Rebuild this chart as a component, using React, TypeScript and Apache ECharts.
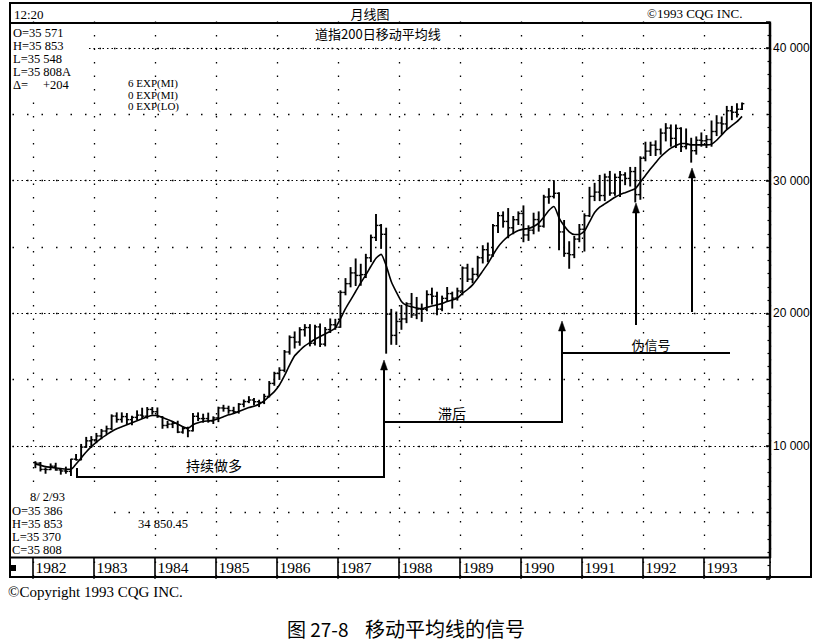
import React, { useEffect, useRef } from "react";
import * as echarts from "echarts";

// ---- axis layout (months shown on the category axis: Sep 1981 .. Jan 1994) ----
const AXIS_START_YEAR = 1981;
const AXIS_START_MONTH = 9;
const AXIS_MONTHS = 149;
const FIRST_BAR_INDEX = 4; // Jan 1982
const LAST_LABEL_YEAR = 1993;

// ---- monthly bars, Jan 1982 .. Aug 1993 (Dow x10 as on the chart) ----
const opens = [
  8750, 8710, 8240, 8230, 8480, 8200, 8120, 8090, 9010, 8960, 9920, 10390,
  10470, 10760, 11130, 11300, 12260, 12000, 12220, 11990, 12160, 12330, 12250, 12760,
  12590, 12210, 11550, 11650, 11710, 11050, 11320, 11150, 12240, 12070, 12070, 11890,
  12120, 12870, 12840, 12670, 12580, 13150, 13350, 13470, 13340, 13290, 13740, 14720,
  15470, 15710, 17090, 18190, 17840, 18770, 18930, 17750, 18980, 17680, 18780, 19140,
  18960, 21580, 22240, 23050, 22860, 22920, 24190, 25720, 26630, 25960, 19940, 18340,
  19390, 19580, 20720, 19880, 20320, 20310, 21420, 21290, 20320, 21130, 21490, 21150,
  21690, 23420, 22580, 22940, 24190, 24800, 24400, 26610, 27370, 26930, 26450, 27060,
  27530, 25910, 26270, 27070, 26570, 28770, 28810, 29050, 26140, 24520, 24420, 25600,
  26340, 27360, 28820, 29140, 28880, 30280, 29070, 30250, 30440, 30170, 30690, 28950,
  31690, 32230, 32680, 32350, 33590, 33970, 33190, 33940, 32570, 32720, 32260, 33050,
  33010, 33100, 33710, 34350, 34280, 35270, 35160, 35386,
];
const highs = [
  8820, 8760, 8350, 8650, 8700, 8250, 8410, 9010, 9360, 10120, 10650, 10710,
  10950, 11250, 11500, 12350, 12500, 12500, 12450, 12250, 12650, 12850, 12900, 12900,
  12870, 12220, 11850, 11850, 11870, 11450, 11420, 12450, 12500, 12400, 12480, 12200,
  12930, 13070, 13000, 12920, 13200, 13470, 13720, 13580, 13450, 13900, 14860, 15560,
  15900, 17200, 18300, 18600, 18920, 19150, 19150, 19100, 19200, 18930, 19580, 19550,
  21700, 22620, 23450, 24100, 23700, 24450, 25900, 27460, 26700, 26420, 20300, 20100,
  20600, 20800, 21500, 21200, 20700, 21700, 21900, 21600, 21300, 21950, 21600, 21900,
  23500, 23700, 23400, 24300, 25100, 25300, 26700, 27600, 27650, 27900, 27300, 27650,
  28100, 26600, 27550, 27650, 28900, 29400, 30000, 29100, 27000, 25400, 25800, 26700,
  27500, 29500, 29800, 30400, 30500, 30700, 30500, 30700, 30600, 31000, 31000, 31800,
  32900, 32900, 33000, 33900, 34300, 34200, 34200, 34000, 33900, 33200, 33300, 33600,
  33400, 34500, 34900, 34800, 35600, 35600, 35800, 35853,
];
const lows = [
  8370, 8120, 7950, 8220, 8180, 7880, 7950, 7770, 8950, 8960, 9900, 9900,
  10250, 10550, 10950, 11250, 11800, 11800, 11650, 11600, 12000, 12100, 12100, 12400,
  12170, 11340, 11380, 11390, 11010, 10970, 10700, 11140, 11920, 11800, 11800, 11700,
  11840, 12630, 12470, 12500, 12480, 12960, 13270, 13100, 12970, 13200, 13700, 14580,
  15020, 15600, 16930, 17390, 17600, 18290, 17550, 17620, 17500, 17550, 18560, 18800,
  18950, 21400, 22000, 22100, 22120, 22700, 23900, 25500, 24900, 17000, 17670, 17660,
  18800, 19300, 19700, 19600, 19400, 20200, 20700, 19900, 20200, 20900, 20400, 21000,
  21400, 22400, 22300, 22800, 23800, 23900, 24300, 26100, 26500, 25700, 26000, 26700,
  25400, 25500, 26000, 26200, 26500, 28300, 28700, 24800, 24300, 23400, 24200, 25400,
  24700, 27300, 28500, 28500, 28500, 28900, 28900, 28800, 29700, 29600, 28400, 28600,
  31500, 31900, 31900, 32000, 33000, 32600, 32500, 32200, 32400, 31400, 32000, 32600,
  32500, 32600, 33400, 33500, 33900, 34600, 34800, 35370,
];
const closes = [
  8710, 8240, 8230, 8480, 8200, 8120, 8090, 9010, 8960, 9920, 10390, 10470,
  10760, 11130, 11300, 12260, 12000, 12220, 11990, 12160, 12330, 12250, 12760, 12590,
  12210, 11550, 11650, 11710, 11050, 11320, 11150, 12240, 12070, 12070, 11890, 12120,
  12870, 12840, 12670, 12580, 13150, 13350, 13470, 13340, 13290, 13740, 14720, 15470,
  15710, 17090, 18190, 17840, 18770, 18930, 17750, 18980, 17680, 18780, 19140, 18960,
  21580, 22240, 23050, 22860, 22920, 24190, 25720, 26630, 25960, 19940, 18340, 19390,
  19580, 20720, 19880, 20320, 20310, 21420, 21290, 20320, 21130, 21490, 21150, 21690,
  23420, 22580, 22940, 24190, 24800, 24400, 26610, 27370, 26930, 26450, 27060, 27530,
  25910, 26270, 27070, 26570, 28770, 28810, 29050, 26140, 24520, 24420, 25600, 26340,
  27360, 28820, 29140, 28880, 30280, 29070, 30250, 30440, 30170, 30690, 28950, 31690,
  32230, 32680, 32350, 33590, 33970, 33190, 33940, 32570, 32720, 32260, 33050, 33010,
  33100, 33710, 34350, 34280, 35270, 35160, 35390, 35808,
];
// ---- 200-day moving average as drawn ----
const ma200 = [
  8650, 8550, 8450, 8400, 8350, 8300, 8250, 8250, 8650, 9100, 9550, 9950,
  10300, 10600, 10850, 11100, 11300, 11450, 11600, 11750, 11900, 12050, 12200, 12300,
  12300, 12150, 12000, 11850, 11650, 11450, 11350, 11600, 11750, 11850, 11900, 11950,
  12050, 12200, 12350, 12450, 12600, 12750, 12900, 13000, 13150, 13400, 13750, 14100,
  14600, 15300, 16100, 16800, 17200, 17550, 17800, 18050, 18250, 18450, 18650, 18900,
  19600, 20350, 21000, 21650, 22300, 22900, 23550, 24150, 24450, 23600, 22400, 21600,
  20900, 20600, 20500, 20400, 20350, 20450, 20550, 20650, 20750, 20900, 21000, 21150,
  21500, 21800, 22150, 22650, 23200, 23750, 24400, 25000, 25450, 25800, 26050, 26250,
  26350, 26400, 26550, 26800, 27250, 27750, 28050, 27200, 26600, 26150, 25950, 25950,
  26200, 26900, 27600, 28000, 28250, 28500, 28750, 28950, 29100, 29250, 29400, 29900,
  30400, 30900, 31350, 31800, 32150, 32450, 32650, 32800, 32800, 32700, 32700, 32700,
  32700, 32750, 33050, 33450, 33850, 34150, 34450, 34850,
];
const yMajorTicks = [10000, 20000, 30000, 40000];

const SERIF = '"Liberation Serif", "Times New Roman", serif';
const SANS = '"Liberation Sans", Arial, sans-serif';
const CJK = '"Noto Sans CJK SC", "Noto Sans", sans-serif';

function buildCategories(): string[] {
  const out: string[] = [];
  for (let k = 0; k < AXIS_MONTHS; k++) {
    const m0 = AXIS_START_MONTH - 1 + k;
    const y = AXIS_START_YEAR + Math.floor(m0 / 12);
    const m = (m0 % 12) + 1;
    out.push(m === 1 ? String(y) : `${y}-${String(m).padStart(2, "0")}`);
  }
  return out;
}

function txt(x: number, y: number, text: string, size: number, family: string, align = "left", weight = "normal") {
  return {
    type: "text",
    x,
    y,
    z: 30,
    style: {
      text,
      fontSize: size,
      fontFamily: family,
      fontWeight: weight,
      fill: "#000",
      textAlign: align,
      textVerticalAlign: "middle",
      align,
      verticalAlign: "middle",
    },
  };
}
function seg(x1: number, y1: number, x2: number, y2: number, w = 2) {
  return { type: "line", z: 25, shape: { x1, y1, x2, y2 }, style: { stroke: "#000", lineWidth: w } };
}
function poly(points: number[][], w = 2) {
  return { type: "polyline", z: 25, shape: { points }, style: { stroke: "#000", lineWidth: w, fill: null } };
}
function headUp(x: number, tipY: number) {
  return {
    type: "polygon",
    z: 25,
    shape: { points: [[x, tipY], [x - 3.5, tipY + 10], [x + 3.5, tipY + 10]] },
    style: { fill: "#000", stroke: "#000", lineWidth: 0.5 },
  };
}
function whiteBox(x: number, y: number, width: number, height: number) {
  return { type: "rect", z: 20, shape: { x, y, width, height }, style: { fill: "#fff", stroke: null } };
}

export default function App() {
  const ref = useRef<HTMLDivElement>(null);
  useEffect(() => {
    const chart = echarts.init(ref.current!, null, { renderer: "svg" });
    const categories = buildCategories();
    const isYearStart = (i: number) => {
      const c = categories[i];
      return /^\d{4}$/.test(c) && Number(c) <= LAST_LABEL_YEAR;
    };
    const bars = opens.map((o, i) => [i + FIRST_BAR_INDEX, o, highs[i], lows[i], closes[i]]);
    const maData = ma200.map((v, i) => [i + FIRST_BAR_INDEX, v]);
    const fmtY = (v: number) => (yMajorTicks.indexOf(v) >= 0 ? `${v / 1000} 000` : "");

    chart.setOption({
      animation: false,
      backgroundColor: "#fff",
      grid: { left: 12.5, right: 46, top: 21.5, bottom: 62.3, outerBoundsMode: "none" },
      xAxis: {
        type: "category",
        data: categories,
        boundaryGap: true,
        axisLine: { show: false },
        axisTick: {
          show: true,
          inside: true,
          length: 21,
          interval: (i: number) => isYearStart(i),
          lineStyle: { color: "#000", width: 1.6 },
        },
        axisLabel: {
          show: true,
          inside: true,
          interval: (i: number) => isYearStart(i),
          align: "left",
          verticalAlign: "middle",
          margin: 11,
          fontFamily: SERIF,
          fontSize: 15.5,
          color: "#000",
        },
        splitLine: {
          show: true,
          interval: (i: number) => isYearStart(i),
          lineStyle: { color: "#000", width: 1.3, type: [1.5, 12] },
        },
      },
      yAxis: [
        {
          type: "value",
          position: "right",
          min: 0,
          max: 42000,
          interval: 10000,
          axisLine: { show: false },
          axisTick: { show: true, inside: true, length: 4, lineStyle: { color: "#000", width: 1.5 } },
          minorTick: { show: true, splitNumber: 10, length: 2.5, lineStyle: { color: "#000", width: 1.2 } },
          axisLabel: { formatter: fmtY, margin: 3, fontFamily: SANS, fontSize: 12, color: "#000" },
          splitLine: {
            show: true,
            showMinLine: false,
            showMaxLine: false,
            lineStyle: { color: "#000", width: 1.2, type: [1.5, 3] },
          },
        },
        {
          type: "value",
          position: "right",
          min: 0,
          max: 42000,
          interval: 5000,
          axisLine: { show: false },
          axisTick: { show: false },
          axisLabel: { show: false },
          splitLine: {
            show: true,
            showMinLine: false,
            showMaxLine: false,
            lineStyle: { color: "#000", width: 1.3, type: [1.5, 13] },
          },
        },
      ],
      series: [
        {
          type: "custom",
          name: "bars",
          data: bars,
          encode: { x: 0, y: [1, 2, 3, 4] },
          renderItem: (_p: any, api: any) => {
            const x = api.value(0);
            const o = api.coord([x, api.value(1)]);
            const h = api.coord([x, api.value(2)]);
            const l = api.coord([x, api.value(3)]);
            const c = api.coord([x, api.value(4)]);
            const t = 2.3;
            return {
              type: "group",
              children: [
                { type: "line", shape: { x1: h[0], y1: h[1] - 0.5, x2: l[0], y2: l[1] + 0.5 }, style: { stroke: "#000", lineWidth: 1.9 } },
                { type: "line", shape: { x1: o[0] - t, y1: o[1], x2: o[0], y2: o[1] }, style: { stroke: "#000", lineWidth: 1.4 } },
                { type: "line", shape: { x1: c[0], y1: c[1], x2: c[0] + t, y2: c[1] }, style: { stroke: "#000", lineWidth: 1.4 } },
              ],
            };
          },
          z: 3,
        },
        {
          type: "line",
          name: "MA",
          data: maData,
          symbol: "none",
          smooth: 0.2,
          lineStyle: { color: "#000", width: 1.6 },
          z: 4,
        },
      ],
      graphic: [
        // frame
        { type: "rect", z: 22, shape: { x: 10, y: 3, width: 801, height: 574 }, style: { fill: null, stroke: "#000", lineWidth: 2 } },
        { type: "rect", z: 21, shape: { x: 771, y: 559, width: 30, height: 25 }, style: { fill: "#fff", stroke: null } },
        seg(10, 23, 771, 23),
        seg(770, 23, 770, 558, 2.5),
        seg(10, 557.5, 771, 557.5),
        { type: "rect", z: 25, shape: { x: 11, y: 565, width: 5, height: 6 }, style: { fill: "#000" } },
        // white panels behind the readouts
        whiteBox(11, 25, 77, 66),
        whiteBox(11, 489, 90, 67),
        // header
        txt(14, 14, "12:20", 13, SERIF),
        txt(370, 13, "月线图", 13, CJK, "center"),
        txt(647, 13, "©1993 CQG INC.", 13, SERIF),
        txt(315, 33, "道指200日移动平均线", 13, CJK),
        txt(13, 33, "O=35 571", 12.5, SERIF),
        txt(13, 46, "H=35 853", 12.5, SERIF),
        txt(13, 59, "L=35 548", 12.5, SERIF),
        txt(13, 72, "L=35 808A", 12.5, SERIF),
        txt(13, 85, "Δ=", 12.5, SERIF),
        txt(43, 85, "+204", 12.5, SERIF),
        txt(128, 83, "6 EXP(MI)", 11, SERIF),
        txt(128, 94.5, "0 EXP(MI)", 11, SERIF),
        txt(128, 106, "0 EXP(LO)", 11, SERIF),
        // bottom-left readout
        txt(30, 497, "8/ 2/93", 12.5, SERIF),
        txt(12, 511, "O=35 386", 12.5, SERIF),
        txt(12, 524, "H=35 853", 12.5, SERIF),
        txt(12, 537, "L=35 370", 12.5, SERIF),
        txt(12, 550, "C=35 808", 12.5, SERIF),
        txt(138, 524, "34 850.45", 12.5, SERIF),
        // annotations
        poly([[77, 468], [77, 477], [384, 477], [384, 368]]),
        headUp(384, 360),
        txt(214, 465, "持续做多", 14, CJK, "center"),
        poly([[384, 422], [562, 422], [562, 330]]),
        headUp(562, 321),
        txt(452, 413, "滞后", 14, CJK, "center"),
        seg(562, 353, 730, 353),
        txt(651, 344, "伪信号", 13, CJK, "center"),
        seg(636, 325, 636, 210),
        headUp(636, 203),
        seg(692, 312, 692, 175),
        headUp(692, 168),
        // below chart
        txt(8, 592, "©Copyright 1993 CQG INC.", 15, SERIF),
        txt(287, 628, "图 27-8", 19, CJK),
        txt(365, 628, "移动平均线的信号", 20, CJK),
      ],
    });
    return () => chart.dispose();
  }, []);
  return (
    <div
      ref={ref}
      style={{ position: "absolute", left: 0, top: 0, width: 816, height: 641, background: "#fff" }}
    />
  );
}
